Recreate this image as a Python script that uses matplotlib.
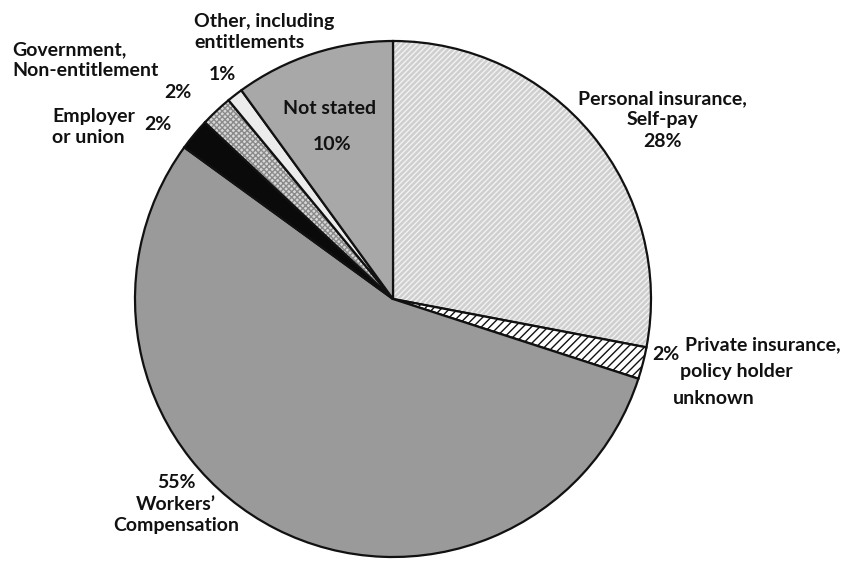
import matplotlib.pyplot as plt
import matplotlib as mpl

# slices clockwise from 12 o'clock
categories = ["Personal insurance, Self-pay", "Private insurance, policy holder unknown",
              "Workers' Compensation", "Employer or union", "Government, Non-entitlement",
              "Other, including entitlements", "Not stated"]
shares = [28, 2, 55, 2, 2, 1, 10]

colors = ["#cfcfcf", "#ffffff", "#9a9a9a", "#0a0a0a", "#d8d8d8", "#ececec", "#a8a8a8"]
hatches = ["//////", "////", None, None, "xxxxxx", None, None]
hatch_colors = ["#f2f2f2", "#111111", None, None, "#8a8a8a", None, None]

mpl.rcParams["hatch.linewidth"] = 1.0

fig = plt.figure(figsize=(8.44, 5.63), dpi=100)
ax = fig.add_axes([0, 0, 1, 1])

wedges, _ = ax.pie(shares, colors=colors, startangle=90, counterclock=False,
                   center=(393, 563 - 299), radius=258, frame=True,
                   wedgeprops=dict(edgecolor="#111111", linewidth=1.6))
ax.set_xlim(0, 844)
ax.set_ylim(0, 563)
ax.set_aspect("equal")
ax.axis("off")
for w, h, hc in zip(wedges, hatches, hatch_colors):
    if h:
        w.set_hatch(h)
        w._hatch_color = mpl.colors.to_rgba(hc)

txt = dict(fontsize=14, fontweight="bold", color="#111111", family=["Lato", "DejaVu Sans"])

def put(x, y, s, ha="center"):
    ax.text(x, 563 - y, s, ha=ha, va="center", linespacing=1.3, **txt)

put(662, 120, "Personal insurance,\nSelf-pay\n28%")
put(666, 355, "2%")
put(685, 345, "Private insurance,", ha="left")
put(680, 372, "policy holder", ha="left")
put(673, 398, "unknown", ha="left")
put(330, 108, "Not stated")
put(332, 145, "10%")
put(194, 32, "Other, including\nentitlements", ha="left")
put(222, 75, "1%")
put(12, 60, "Government,\nNon-entitlement", ha="left")
put(178, 92, "2%")
put(52, 127, "Employer\nor union", ha="left")
put(158, 125, "2%")
put(176, 504, "55%\nWorkers\u2019\nCompensation")

fig.savefig("out.png", dpi=100)
